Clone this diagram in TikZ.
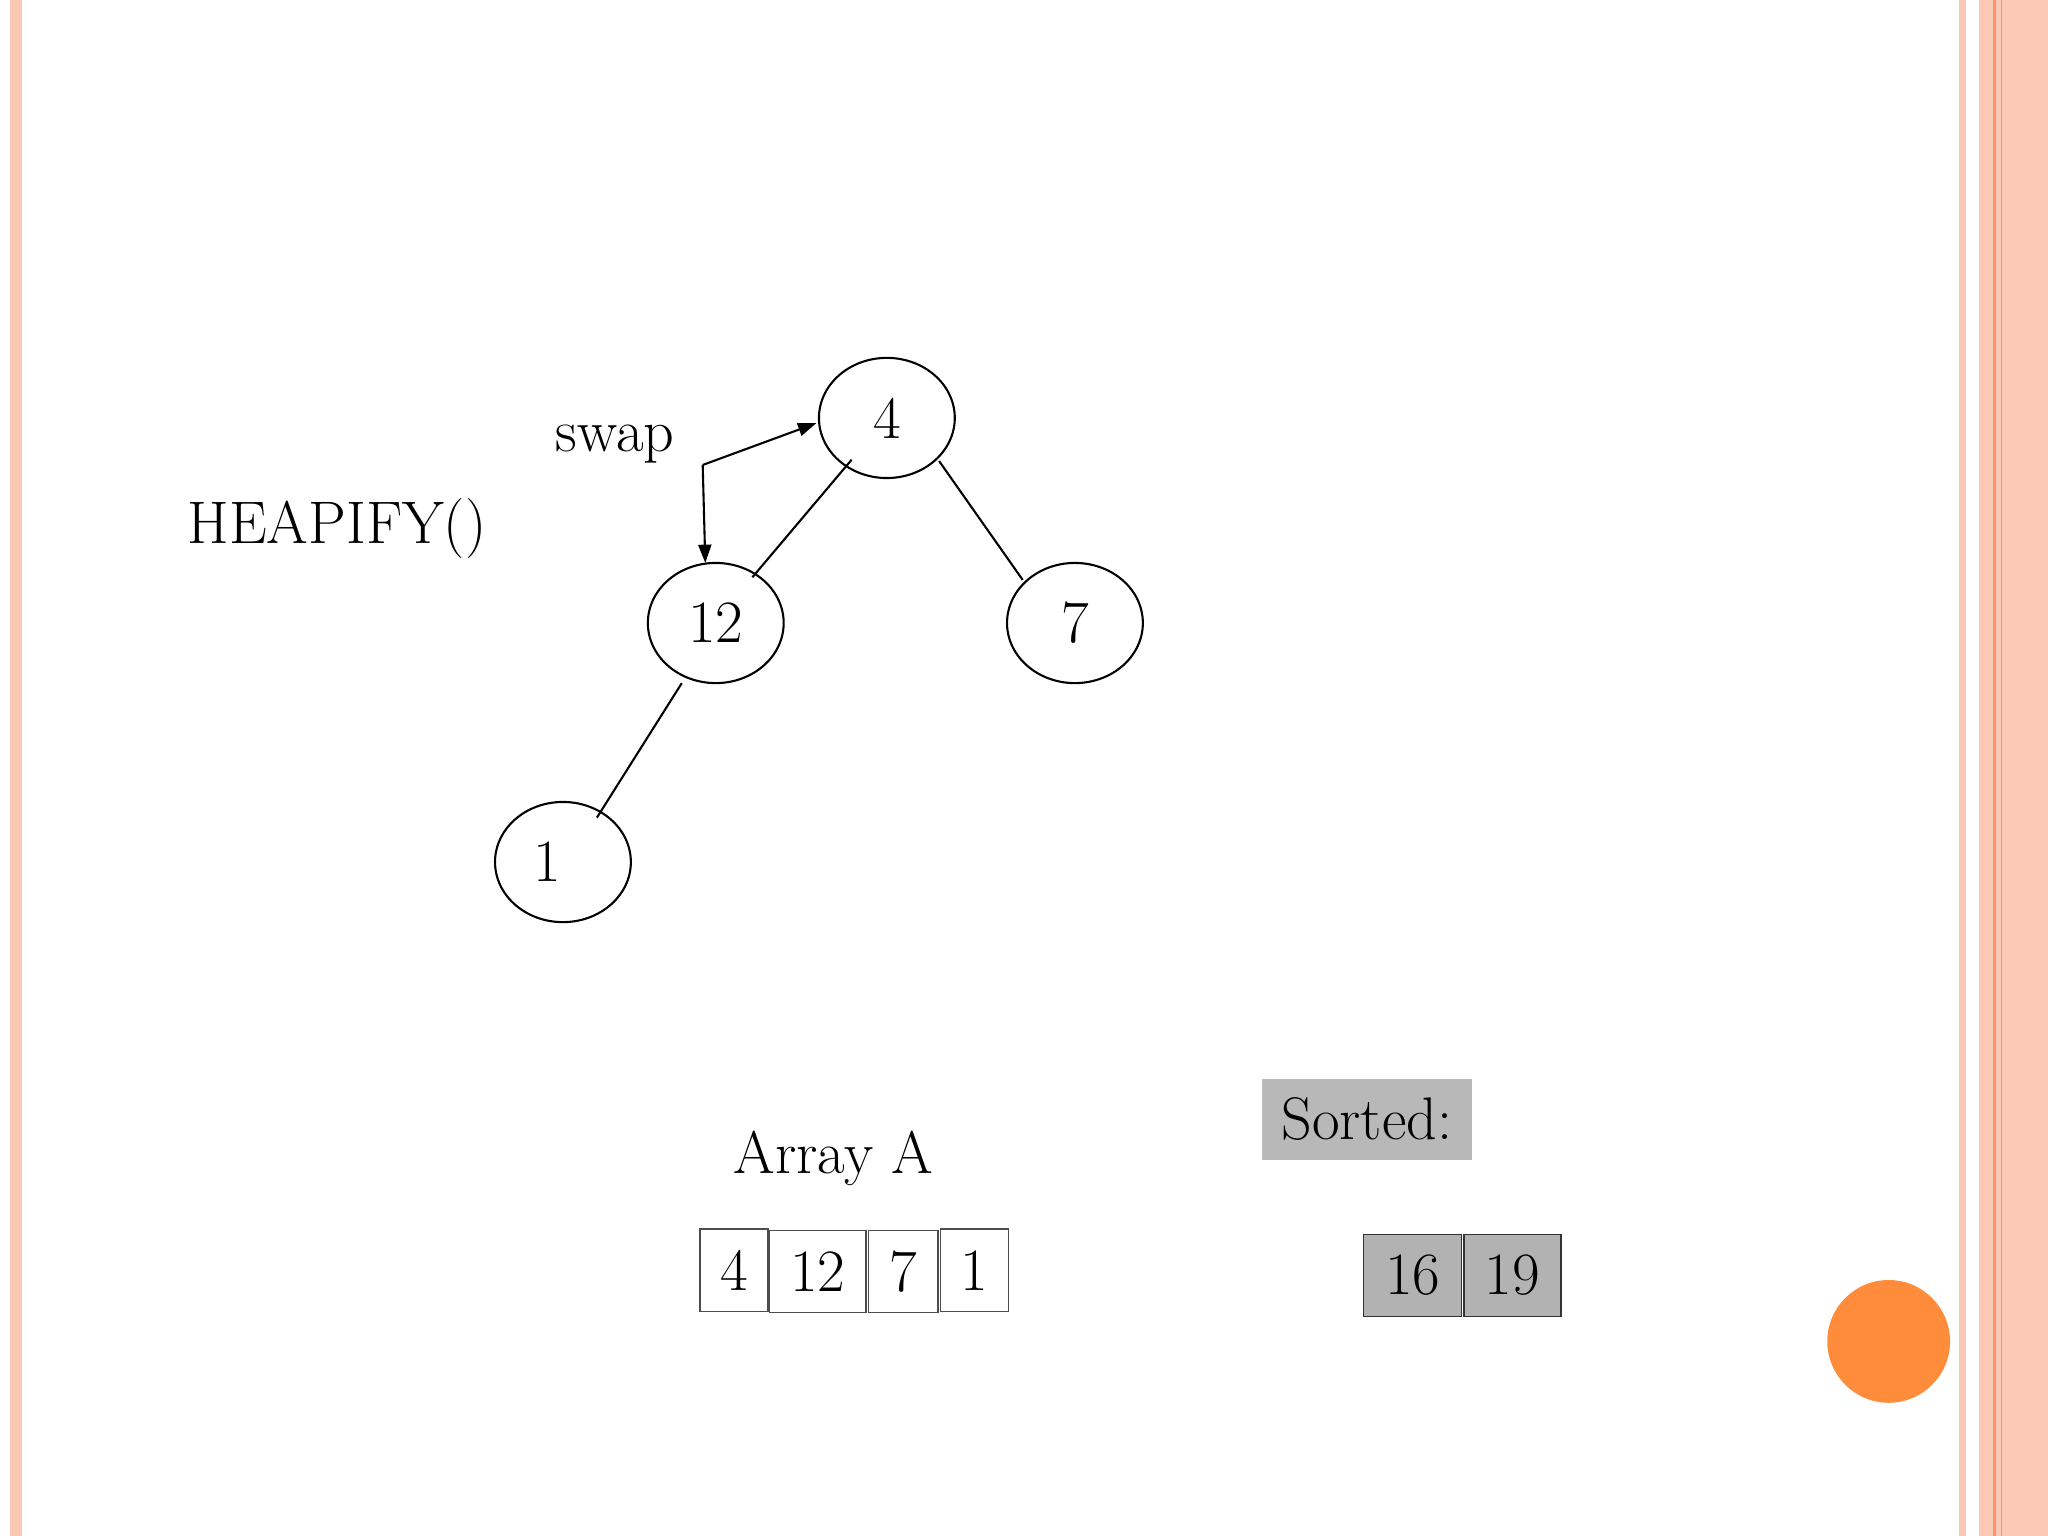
\documentclass[tikz,border=0pt]{standalone}
\usetikzlibrary{shapes.geometric,arrows.meta}
\begin{document}
\begin{tikzpicture}[x=0.5pt,y=-0.5pt,
  hn/.style={draw,ellipse,minimum width=104\pgflinewidth,line width=1pt},
  ell/.style={draw,line width=0.8pt},
  txt/.style={font=\fontsize{23}{27}\selectfont,inner sep=0pt},
  cell/.style={draw=black!70,line width=0.6pt,minimum height=31.5pt,inner sep=0pt,font=\fontsize{23}{27}\selectfont},
  gcell/.style={cell,fill=black!30,draw=black!80}]
\useasboundingbox (0,0) rectangle (1568,1176);
% borders
\fill[fill={rgb,255:red,250;green,200;blue,180}] (8,0) rectangle (17,1176);
\fill[fill={rgb,255:red,250;green,200;blue,180}] (1500,0) rectangle (1505,1176);
\fill[fill={rgb,255:red,250;green,200;blue,180}] (1515,0) rectangle (1568,1176);
\fill[fill={rgb,255:red,245;green,150;blue,110}] (1526,0) rectangle (1528,1176);
\fill[fill={rgb,255:red,245;green,150;blue,110}] (1532,0) rectangle (1533,1176);
% tree
\draw[ell] (679,320) ellipse [x radius=52,y radius=46];
\node[txt] (n4) at (679,320) {4};
\draw[ell] (548,477) ellipse [x radius=52,y radius=46];
\node[txt] (n12) at (548,477) {12};
\draw[ell] (823,477) ellipse [x radius=52,y radius=46];
\node[txt] (n7) at (823,477) {7};
\draw[ell] (431,660) ellipse [x radius=52,y radius=46];
\node[txt] (n1) at (419,660) {1};
\coordinate (a1) at (652,352); \coordinate (a2) at (576,442);
\coordinate (b1) at (719,353); \coordinate (b2) at (783,444);
\coordinate (c1) at (522,523); \coordinate (c2) at (457,626);
\draw[line width=0.8pt] (a1) -- (a2);
\draw[line width=0.8pt] (b1) -- (b2);
\draw[line width=0.8pt] (c1) -- (c2);
\coordinate (s) at (538,356); \coordinate (s1) at (625,324); \coordinate (s2) at (540,431);
\draw[line width=0.8pt,-{Triangle[length=7pt,width=5pt]}] (s) -- (s1);
\draw[line width=0.8pt,-{Triangle[length=7pt,width=5pt]}] (s) -- (s2);
\node[txt] (swap) at (471,340) {swap};
\node[txt] (heap) at (258,405) {HEAPIFY()};
\node[txt] (arr) at (638,887) {Array A};
\node[cell,minimum width=26pt] (c4) at (562,972.5) {4};
\node[cell,minimum width=37pt] (c12) at (626,973.5) {12};
\node[cell,minimum width=26.5pt] (c7) at (691.5,973.5) {7};
\node[cell,minimum width=26pt] (c1x) at (746,972.5) {1};
\node[fill=black!28,minimum width=80.5pt,minimum height=31pt,txt] (sorted) at (1046.5,857) {Sorted:};
\node[gcell,minimum width=37.5pt] (g16) at (1081.5,976.5) {16};
\node[gcell,minimum width=37pt] (g19) at (1158,976.5) {19};
\fill[fill={rgb,255:red,255;green,140;blue,58}] (1446,1027) circle [radius=47];
\end{tikzpicture}
\end{document}
